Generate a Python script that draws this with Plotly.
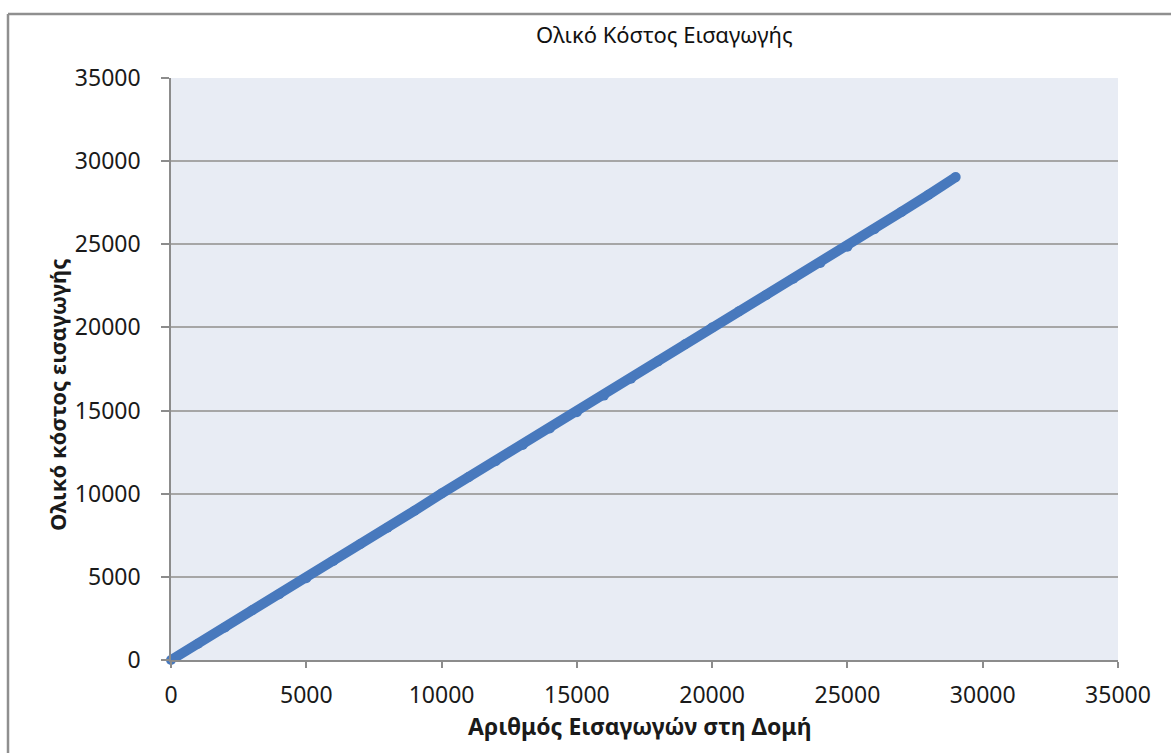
import plotly.graph_objects as go

# Number of insertions into the structure and the accumulated insertion cost
insertions = [0, 1000, 2000, 3000, 4000, 5000, 6000, 7000, 8000, 9000,
              10000, 11000, 12000, 13000, 14000, 15000, 16000, 17000, 18000, 19000,
              20000, 21000, 22000, 23000, 24000, 25000, 26000, 27000, 28000, 29000]
total_cost = [0, 980, 1960, 2990, 3950, 4920, 5960, 6980, 7950, 8980,
              10010, 11000, 11950, 12930, 13920, 14900, 15900, 16920, 17960, 18990,
              20000, 20980, 21950, 22930, 23880, 24850, 25900, 26950, 27980, 29040]

tick_vals = [0, 5000, 10000, 15000, 20000, 25000, 30000, 35000]
tick_text = ["0", "5000", "10000", "15000", "20000", "25000", "30000", "35000"]

chart_title = "Ολικό Κόστος Εισαγωγής"
x_title = "Αριθμός Εισαγωγών στη Δομή"
y_title = "Ολικό κόστος εισαγωγής"

W, H = 1171, 753
L, R, T, B = 171, 53, 78, 93
pw, ph = W - L - R, H - T - B

def px_to_paper_x(px):
    return (px - L) / pw

def px_to_paper_y(py):
    return 1 - (py - T) / ph

FONT = "Noto Sans"
TEXT = "#1a1a1a"
LINE_BLUE = "#4879bd"
GRID = "#a6a6a6"

fig = go.Figure()
fig.add_trace(go.Scatter(
    x=insertions, y=total_cost, mode="lines+markers",
    line=dict(color=LINE_BLUE, width=10),
    marker=dict(color=LINE_BLUE, size=10, line=dict(width=0)),
    showlegend=False, cliponaxis=False,
))

fig.update_layout(
    width=W, height=H,
    margin=dict(l=L, r=R, t=T, b=B, pad=0),
    paper_bgcolor="white",
    plot_bgcolor="#e8ecf4",
    font=dict(family=FONT, size=20, color=TEXT),
    showlegend=False,
)

fig.update_xaxes(
    range=[0, 35000], tickvals=tick_vals, ticktext=tick_text,
    showgrid=False, zeroline=False,
    showline=True, linecolor="#8c8c8c", linewidth=1.5,
    ticks="outside", ticklen=6, tickcolor="#8c8c8c", tickwidth=1.5,
    ticklabelstandoff=8,
    tickfont=dict(family=FONT, size=23, color=TEXT),
)
fig.update_yaxes(
    range=[0, 35000], tickvals=tick_vals, ticktext=tick_text,
    showgrid=True, gridcolor=GRID, gridwidth=1.5,
    zeroline=False,
    showline=True, linecolor="#8c8c8c", linewidth=1.5,
    ticks="outside", ticklen=8, tickcolor="#8c8c8c", tickwidth=1.5,
    ticklabelstandoff=16,
    tickfont=dict(family=FONT, size=23, color=TEXT),
)

# Outer chart frame (left and top edges are inside the page)
fig.add_shape(type="line", xref="paper", yref="paper",
              x0=px_to_paper_x(8), y0=px_to_paper_y(14),
              x1=px_to_paper_x(W + 20), y1=px_to_paper_y(14),
              line=dict(color="#8f8f8f", width=2.5))
fig.add_shape(type="line", xref="paper", yref="paper",
              x0=px_to_paper_x(8), y0=px_to_paper_y(14),
              x1=px_to_paper_x(8), y1=px_to_paper_y(H + 20),
              line=dict(color="#8f8f8f", width=2.5))

fig.add_annotation(text=chart_title, xref="paper", yref="paper",
                   x=px_to_paper_x(664), y=px_to_paper_y(34),
                   showarrow=False, xanchor="center", yanchor="middle",
                   font=dict(family=FONT, size=22, color="#111111"))
fig.add_annotation(text="<b>" + x_title + "</b>", xref="paper", yref="paper",
                   x=px_to_paper_x(640), y=px_to_paper_y(726),
                   showarrow=False, xanchor="center", yanchor="middle",
                   font=dict(family=FONT, size=23, color=TEXT))
fig.add_annotation(text="<b>" + y_title + "</b>", xref="paper", yref="paper",
                   x=px_to_paper_x(57), y=px_to_paper_y(395),
                   showarrow=False, xanchor="center", yanchor="middle",
                   textangle=-90,
                   font=dict(family=FONT, size=22, color=TEXT))

fig.write_html("out.html")
